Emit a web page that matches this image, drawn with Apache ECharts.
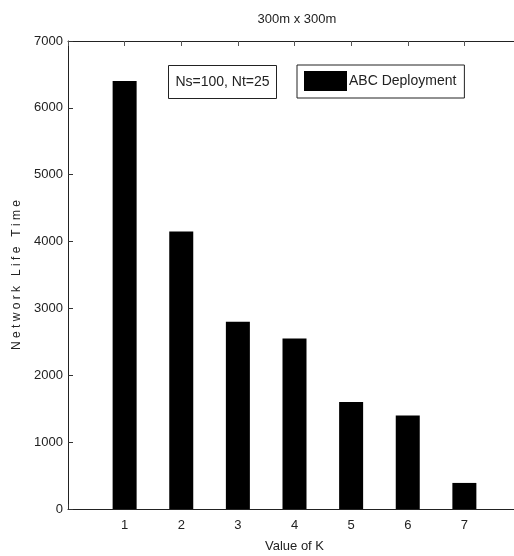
<!DOCTYPE html>
<html>
<head>
<meta charset="utf-8">
<script src="https://cdn.jsdelivr.net/npm/echarts@6/dist/echarts.min.js"></script>
<style>
  html, body { margin: 0; padding: 0; background: #fff; }
  #chart { width: 514px; height: 556px; }
</style>
</head>
<body>
<div id="chart"></div>
<script>
// Network lifetime for each value of K (300m x 300m field)
const kValues = [1, 2, 3, 4, 5, 6, 7];
const lifeTime = [6400, 4150, 2800, 2550, 1600, 1400, 390];
const yTicks = [0, 1000, 2000, 3000, 4000, 5000, 6000, 7000];
const seriesName = 'ABC Deployment';
const noteText = 'Ns=100, Nt=25';
const titleText = '300m x 300m';

const FONT = "'Liberation Sans Narrow', 'Arial Narrow', 'Liberation Sans', Arial, sans-serif";
const TXT = '#222';

const chart = echarts.init(document.getElementById('chart'));

chart.setOption({
  animation: false,
  backgroundColor: '#fff',
  title: {
    text: titleText,
    left: 292,
    top: 8,
    textAlign: 'center',
    textStyle: { fontFamily: FONT, fontSize: 13, fontWeight: 'normal', color: TXT }
  },
  legend: {
    data: [seriesName],
    left: 297,
    top: 65,
    orient: 'vertical',
    borderColor: '#222',
    borderWidth: 1,
    borderRadius: 0,
    padding: [6, 8, 7, 7],
    itemWidth: 43,
    itemHeight: 20,
    itemGap: 0,
    icon: 'rect',
    textStyle: { fontFamily: FONT, fontSize: 14, color: TXT, padding: [0, 0, 0, -3] }
  },
  graphic: [{
    type: 'group',
    left: 168,
    top: 65,
    children: [{
      type: 'rect',
      shape: { x: 0, y: 0, width: 108, height: 33 },
      style: { fill: '#fff', stroke: '#222', lineWidth: 1 }
    }, {
      type: 'text',
      x: 54,
      y: 17,
      style: {
        text: noteText,
        fill: TXT,
        font: '14px ' + FONT,
        textAlign: 'center',
        textVerticalAlign: 'middle'
      }
    }]
  }],
  grid: { left: 68, top: 41, width: 453, height: 468, containLabel: false, outerBoundsMode: 'none' },
  xAxis: [{
    type: 'value',
    min: 0,
    max: 8,
    interval: 1,
    position: 'bottom',
    name: 'Value of K',
    nameLocation: 'middle',
    nameGap: 31,
    nameTextStyle: { fontFamily: FONT, fontSize: 13, color: TXT },
    axisLine: { show: true, lineStyle: { color: '#222', width: 1 } },
    axisTick: { show: true, inside: true, length: 5, lineStyle: { color: '#333' } },
    axisLabel: {
      fontFamily: FONT, fontSize: 13, color: TXT, margin: 10,
      formatter: v => (kValues.indexOf(v) >= 0 ? String(v) : '')
    },
    splitLine: { show: false }
  }, {
    type: 'value',
    min: 0,
    max: 8,
    interval: 1,
    position: 'top',
    axisLine: { show: true, lineStyle: { color: '#222', width: 1 } },
    axisTick: { show: true, inside: true, length: 5, lineStyle: { color: '#555' } },
    axisLabel: { show: false },
    splitLine: { show: false }
  }],
  yAxis: [{
    type: 'value',
    min: yTicks[0],
    max: yTicks[yTicks.length - 1],
    interval: 1000,
    name: 'N e t w o r k   L i f e   T i m e',
    nameLocation: 'middle',
    nameGap: 44,
    nameTextStyle: { fontFamily: FONT, fontSize: 12, color: TXT },
    axisLine: { show: true, lineStyle: { color: '#222', width: 1 } },
    axisTick: { show: true, inside: true, length: 5, lineStyle: { color: '#333' } },
    axisLabel: { fontFamily: FONT, fontSize: 13, color: TXT, margin: 5, formatter: v => String(v) },
    splitLine: { show: false }
  }],
  series: [{
    name: seriesName,
    type: 'bar',
    xAxisIndex: 0,
    yAxisIndex: 0,
    barWidth: 24,
    itemStyle: { color: '#000' },
    data: kValues.map((k, i) => [k, lifeTime[i]])
  }]
});
</script>
</body>
</html>
